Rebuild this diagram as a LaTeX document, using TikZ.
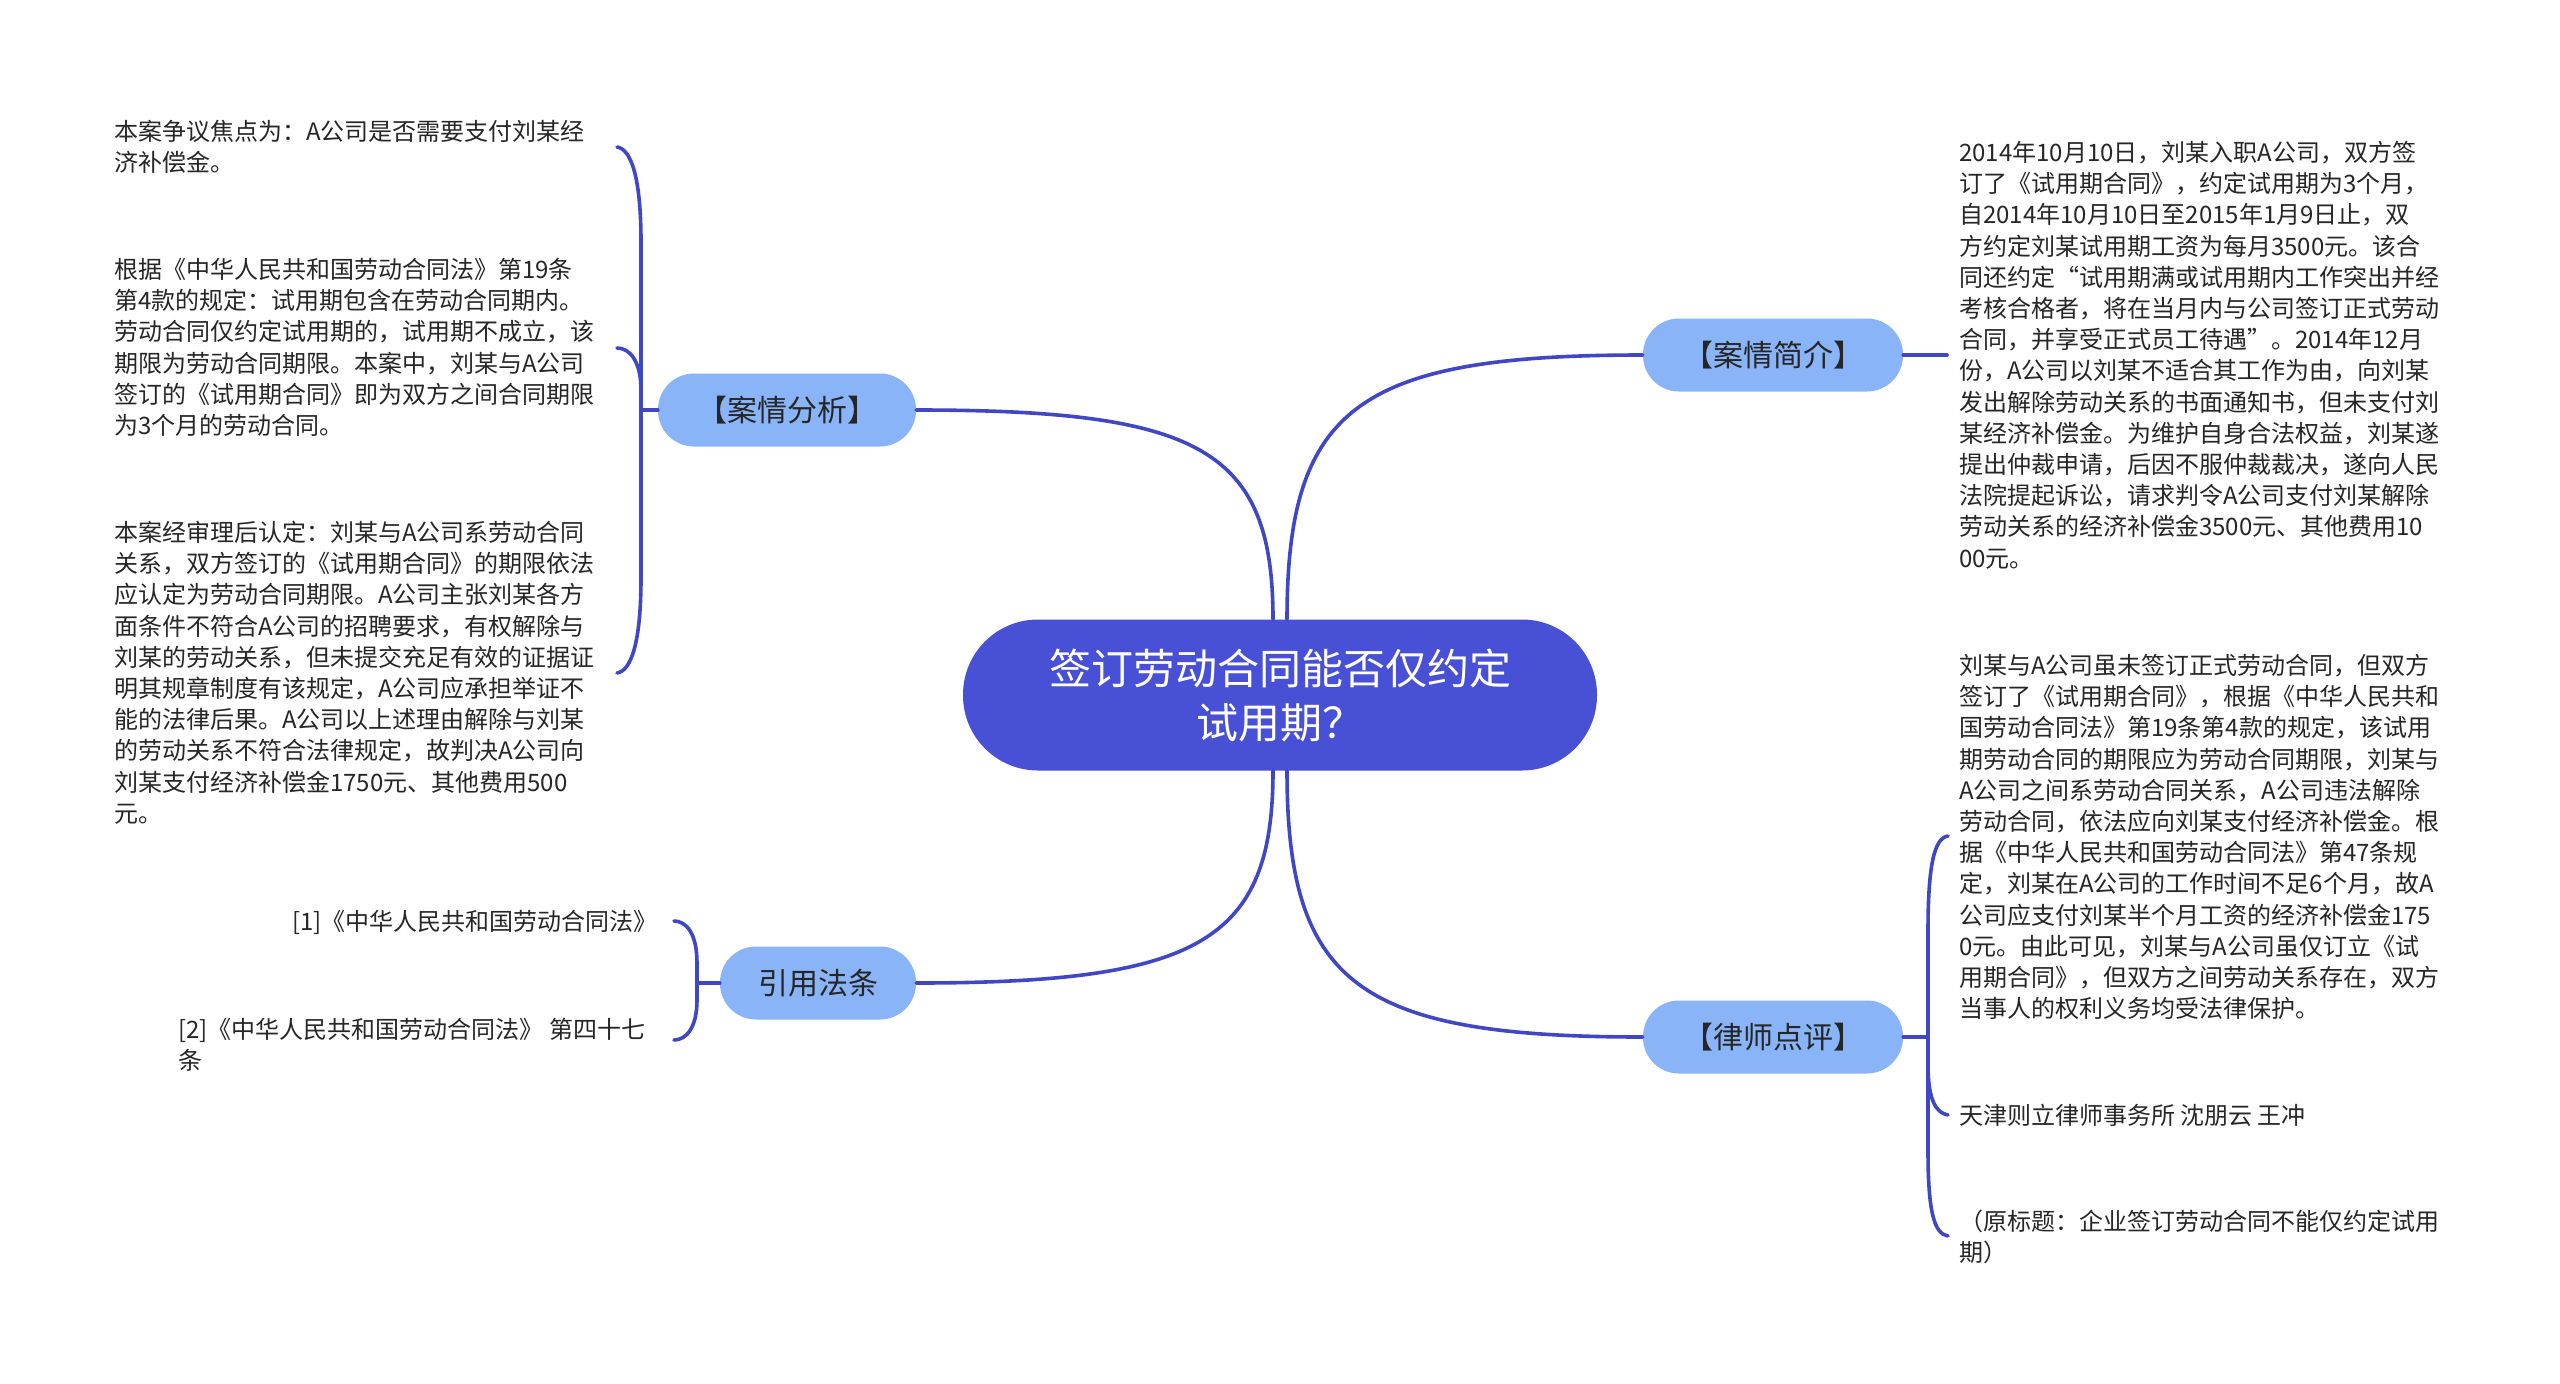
\documentclass[tikz,border=0pt]{standalone}
\usepackage{fontspec}
\setmainfont{Noto Sans CJK SC}
\usetikzlibrary{calc}
\definecolor{mainblue}{HTML}{4850D6}
\definecolor{subblue}{HTML}{8AB4F8}
\definecolor{linec}{HTML}{4047C4}
\definecolor{txt}{HTML}{262626}
\begin{document}
\begin{tikzpicture}[x=1pt,y=-1pt,
  conn/.style={draw=linec, line width=3.6pt, line cap=round},
  centernode/.style={fill=mainblue, rounded corners=75pt, minimum width=634pt, minimum height=151pt, text=white, font=\fontsize{42}{54}\selectfont, align=center, inner sep=0pt},
  subnode/.style={fill=subblue, rounded corners=36pt, minimum height=73pt, text=txt, font=\fontsize{30}{36}\selectfont, inner sep=0pt},
  leaf/.style={text=txt, font=\fontsize{24}{31.2}\selectfont, align=left, inner sep=0pt}]
\useasboundingbox (0,0) rectangle (2560,1384);
\fill[white] (0,0) rectangle (2560,1384);

% central and main topics
\node[centernode] (C) at (1280,695) {签订劳动合同能否仅约定\\试用期？};
\node[subnode, minimum width=260pt] (S1) at (1773,355) {【案情简介】};
\node[subnode, minimum width=260pt] (S2) at (1773,1037) {【律师点评】};
\node[subnode, minimum width=258pt] (S3) at (787,410) {【案情分析】};
\node[subnode, minimum width=196pt] (S4) at (818,983) {引用法条};

% main connectors
\draw[conn] ([xshift=-7pt]C.north) .. controls +(0,-170) and +(284,0) .. (S3.east);
\draw[conn] ([xshift=7pt]C.north) .. controls +(0,-212) and +(-285,0) .. (S1.west);
\draw[conn] ([xshift=-7pt]C.south) .. controls +(0,170) and +(284,0) .. (S4.east);
\draw[conn] ([xshift=7pt]C.south) .. controls +(0,213) and +(-285,0) .. (S2.west);

% leaf texts left (案情分析)
\node[leaf, anchor=north west] (T1) at (114,120) {本案争议焦点为：A公司是否需要支付刘某经\\济补偿金。};
\node[leaf, anchor=north west] (T2) at (114,258) {根据《中华人民共和国劳动合同法》第19条\\第4款的规定：试用期包含在劳动合同期内。\\劳动合同仅约定试用期的，试用期不成立，该\\期限为劳动合同期限。本案中，刘某与A公司\\签订的《试用期合同》即为双方之间合同期限\\为3个月的劳动合同。};
\node[leaf, anchor=north west] (T3) at (114,521) {本案经审理后认定：刘某与A公司系劳动合同\\关系，双方签订的《试用期合同》的期限依法\\应认定为劳动合同期限。A公司主张刘某各方\\面条件不符合A公司的招聘要求，有权解除与\\刘某的劳动关系，但未提交充足有效的证据证\\明其规章制度有该规定，A公司应承担举证不\\能的法律后果。A公司以上述理由解除与刘某\\的劳动关系不符合法律规定，故判决A公司向\\刘某支付经济补偿金1750元、其他费用500\\元。};

% cite texts
\node[leaf, anchor=north east] (Q1) at (658,910) {[1]《中华人民共和国劳动合同法》};
\node[leaf, anchor=north west] (Q2) at (178,1018) {[2]《中华人民共和国劳动合同法》 第四十七\\条};

% right texts
\node[leaf, anchor=north west] (R1) at (1959,141) {2014年10月10日，刘某入职A公司，双方签\\订了《试用期合同》，约定试用期为3个月，\\自2014年10月10日至2015年1月9日止，双\\方约定刘某试用期工资为每月3500元。该合\\同还约定“试用期满或试用期内工作突出并经\\考核合格者，将在当月内与公司签订正式劳动\\合同，并享受正式员工待遇”。2014年12月\\份，A公司以刘某不适合其工作为由，向刘某\\发出解除劳动关系的书面通知书，但未支付刘\\某经济补偿金。为维护自身合法权益，刘某遂\\提出仲裁申请，后因不服仲裁裁决，遂向人民\\法院提起诉讼，请求判令A公司支付刘某解除\\劳动关系的经济补偿金3500元、其他费用10\\00元。};
\node[leaf, anchor=north west] (R2) at (1959,654) {刘某与A公司虽未签订正式劳动合同，但双方\\签订了《试用期合同》，根据《中华人民共和\\国劳动合同法》第19条第4款的规定，该试用\\期劳动合同的期限应为劳动合同期限，刘某与\\A公司之间系劳动合同关系，A公司违法解除\\劳动合同，依法应向刘某支付经济补偿金。根\\据《中华人民共和国劳动合同法》第47条规\\定，刘某在A公司的工作时间不足6个月，故A\\公司应支付刘某半个月工资的经济补偿金175\\0元。由此可见，刘某与A公司虽仅订立《试\\用期合同》，但双方之间劳动关系存在，双方\\当事人的权利义务均受法律保护。};
\node[leaf, anchor=north west] (R3) at (1959,1104) {天津则立律师事务所 沈朋云 王冲};
\node[leaf, anchor=north west] (R4) at (1959,1210) {（原标题：企业签订劳动合同不能仅约定试用\\期）};

% bracket coordinates
\coordinate (ls) at (641,410);
\coordinate (a1) at (617,147);
\coordinate (a2) at (617,348);
\coordinate (a3) at (617,673);
\coordinate (rs) at (1928,1037);
\coordinate (b1) at (1948,836);
\coordinate (b2) at (1948,1115);
\coordinate (b3) at (1948,1236);
\coordinate (cs) at (697,983);
\coordinate (c1) at (674,921);
\coordinate (c2) at (674,1040);
\coordinate (r1) at (1947,355);

% 案情简介 link
\draw[conn] (S1.east) -- (r1);

% 案情分析 bracket
\draw[conn] (S3.west) -- (ls);
\draw[conn] (ls) -- ($(a1)+(24,95)$) .. controls +(0,-65) and +(14,2) .. (a1);
\draw[conn] (ls) -- ($(a2)+(24,42)$) .. controls +(0,-30) and +(12,0) .. (a2);
\draw[conn] (ls) -- ($(a3)+(24,-95)$) .. controls +(0,65) and +(14,-2) .. (a3);

% 律师点评 bracket
\draw[conn] (S2.east) -- (rs);
\draw[conn] (rs) -- ($(b1)+(-20,95)$) .. controls +(0,-65) and +(-14,2) .. (b1);
\draw[conn] (rs) -- ($(b2)+(-20,-50)$) .. controls +(0,35) and +(-12,-2) .. (b2);
\draw[conn] (rs) -- ($(b3)+(-20,-85)$) .. controls +(0,60) and +(-14,-2) .. (b3);

% 引用法条 bracket
\draw[conn] (S4.west) -- (cs);
\draw[conn] (cs) -- ($(c1)+(23,42)$) .. controls +(0,-30) and +(12,0) .. (c1);
\draw[conn] (cs) -- ($(c2)+(23,-40)$) .. controls +(0,28) and +(12,0) .. (c2);
\end{tikzpicture}
\end{document}
